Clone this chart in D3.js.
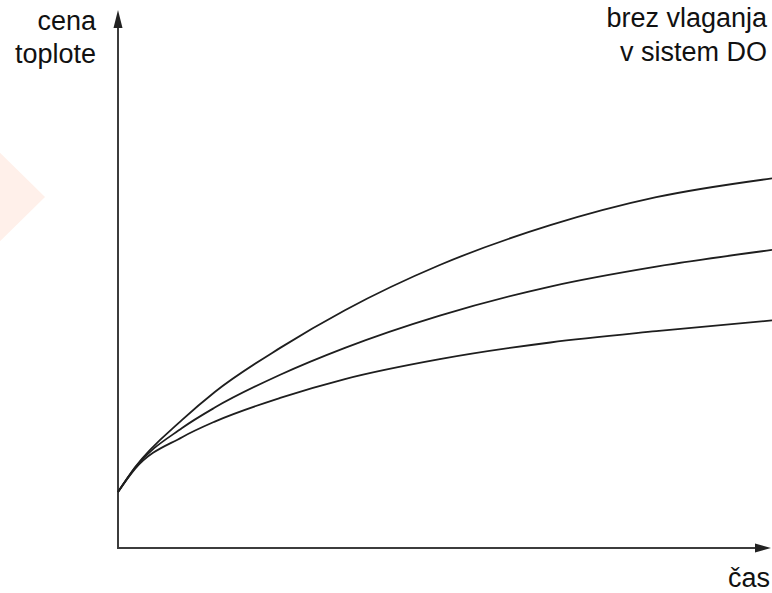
<!DOCTYPE html>
<html>
<head>
<meta charset="utf-8">
<script src="https://cdn.jsdelivr.net/npm/d3@7"></script>
<style>
  html, body { margin: 0; padding: 0; background: #fff; }
  svg { display: block; }
</style>
</head>
<body>
<div class="box"></div>
<script>
const width = 772;
const height = 593;

// time (0..100) along the x axis, price (0..100) along the y axis
const timeSteps = [0, 2.6, 9.8, 14.8, 24.8, 34.7, 49.2, 66.1, 82.3, 100];
const priceTop = [10.4, 15.0, 23.8, 29.0, 37.2, 44.2, 52.6, 60.0, 65.2, 68.7];
const priceMid = [10.4, 14.9, 22.3, 26.1, 32.2, 37.2, 43.2, 48.6, 52.3, 55.4];
const priceLow = [10.4, 14.7, 20.6, 23.5, 27.9, 31.4, 35.1, 38.2, 40.3, 42.3];
const seriesList = [priceTop, priceMid, priceLow];

const yLabel = ['cena', 'toplote'];
const topRightLabel = ['brez vlaganja', 'v sistem DO'];
const xLabel = 'čas';

const x = d3.scaleLinear().domain([0, 100]).range([118, 772]);
const y = d3.scaleLinear().domain([0, 100]).range([548, 10]);

const svg = d3
    .select('.box')
    .append('svg')
    .attr('width', width)
    .attr('height', height)
    .style('background-color', 'white');

// faint decorative arrow shape on the left
svg.append('path')
    .attr('d', 'M-10,143 L45,197 L-10,251 Z')
    .attr('fill', '#fff0ea');

const axisColor = '#3c3c3c';

// y axis with arrow
svg.append('line')
    .attr('x1', x(0))
    .attr('y1', y(0))
    .attr('x2', x(0))
    .attr('y2', 24)
    .attr('stroke', axisColor)
    .attr('stroke-width', 2);

svg.append('path')
    .attr('d', `M${x(0)},10 L${x(0) - 4.5},28 L${x(0) + 4.5},28 Z`)
    .attr('fill', '#222');

// x axis with arrow
svg.append('line')
    .attr('x1', x(0) - 1)
    .attr('y1', y(0))
    .attr('x2', 758)
    .attr('y2', y(0))
    .attr('stroke', axisColor)
    .attr('stroke-width', 2);

svg.append('path')
    .attr('d', `M771,${y(0)} L755,${y(0) - 4.5} L755,${y(0) + 4.5} Z`)
    .attr('fill', '#222');

const line = d3
    .line()
    .x((d, i) => x(timeSteps[i]))
    .y((d) => y(d))
    .curve(d3.curveMonotoneX);

svg.selectAll('path.curve')
    .data(seriesList)
    .enter()
    .append('path')
    .attr('class', 'curve')
    .attr('d', (d) => line(d))
    .attr('fill', 'none')
    .attr('stroke', '#1e1e1e')
    .attr('stroke-width', 1.8);

const font = 'Liberation Sans, Arial, sans-serif';

svg.selectAll('text.ylab')
    .data(yLabel)
    .enter()
    .append('text')
    .attr('class', 'ylab')
    .attr('x', 96)
    .attr('y', (d, i) => 30 + i * 33)
    .attr('text-anchor', 'end')
    .attr('font-family', font)
    .attr('font-size', '27px')
    .attr('fill', '#111')
    .text((d) => d);

svg.selectAll('text.trlab')
    .data(topRightLabel)
    .enter()
    .append('text')
    .attr('class', 'trlab')
    .attr('x', 767)
    .attr('y', (d, i) => 27 + i * 34)
    .attr('text-anchor', 'end')
    .attr('font-family', font)
    .attr('font-size', '27px')
    .attr('fill', '#111')
    .text((d) => d);

svg.append('text')
    .attr('x', 770)
    .attr('y', 587)
    .attr('text-anchor', 'end')
    .attr('font-family', font)
    .attr('font-size', '27px')
    .attr('fill', '#111')
    .text(xLabel);
</script>
</body>
</html>
